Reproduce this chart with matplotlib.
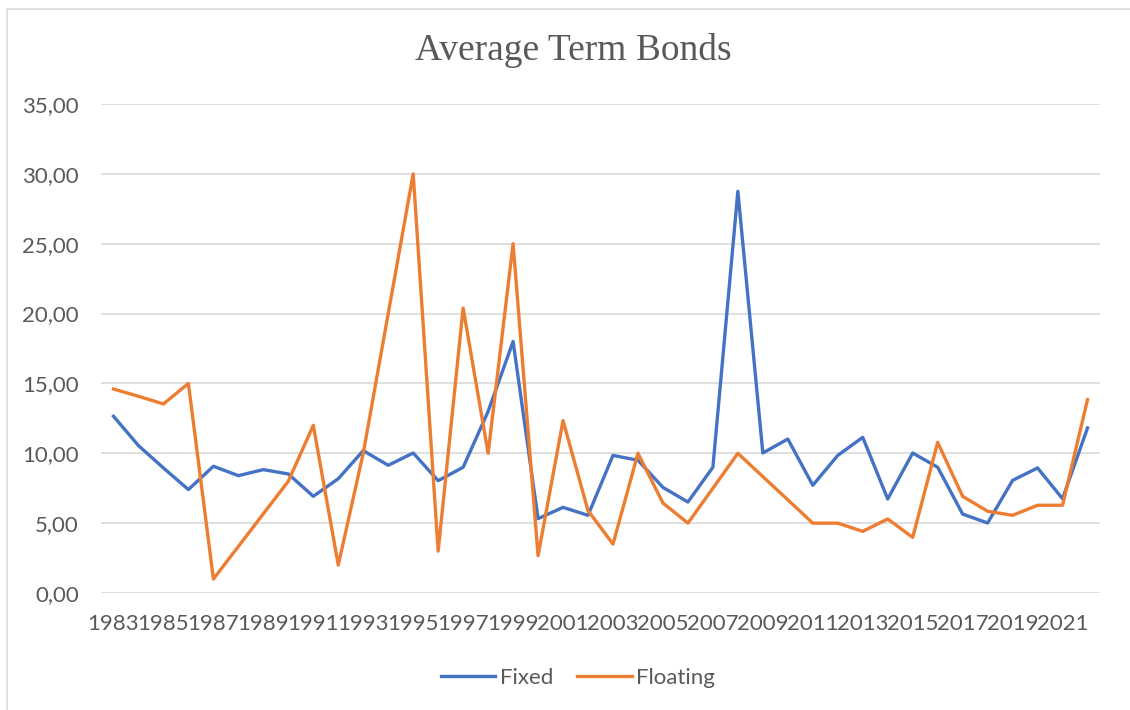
import matplotlib
matplotlib.use("Agg")
import matplotlib.pyplot as plt
from matplotlib.patches import Rectangle
from matplotlib.ticker import FuncFormatter, MultipleLocator

# Average term of bond issues, by year
years = list(range(1983, 2023))
fixed = [12.65, 10.55, 8.95, 7.40, 9.07, 8.40, 8.83, 8.52, 6.92, 8.18,
         10.19, 9.14, 10.02, 8.04, 9.00, 13.00, 18.00, 5.32, 6.13, 5.56,
         9.85, 9.50, 7.56, 6.51, 9.00, 28.75, 10.02, 11.02, 7.71, 9.85,
         11.14, 6.73, 10.02, 9.00, 5.65, 5.01, 8.06, 8.95, 6.75, 11.81]
floating = [14.60, 14.08, 13.53, 15.00, 1.00, 3.33, 5.67, 8.00, 12.00, 2.00,
            10.00, 20.00, 30.00, 3.00, 20.40, 10.00, 25.00, 2.67, 12.34, 5.90,
            3.50, 10.00, 6.44, 5.00, 7.50, 10.00, 8.33, 6.67, 5.00, 5.00,
            4.41, 5.30, 3.98, 10.78, 6.92, 5.85, 5.56, 6.28, 6.28, 13.84]

title = "Average Term Bonds"
series_names = ["Fixed", "Floating"]
colors = ["#4472C4", "#ED7D31"]

W, H = 1130, 710
fig = plt.figure(figsize=(W / 100, H / 100), dpi=100)
fig.patch.set_facecolor("white")

# chart frame
fig.patches.append(Rectangle((7 / W, -0.1), 1.2, 1 - 9 / H + 0.1,
                             transform=fig.transFigure, fill=False,
                             edgecolor="#D9D9D9", linewidth=1.2))

left, right, top, bottom = 101, 1100, 104, 593
ax = fig.add_axes([left / W, 1 - bottom / H, (right - left) / W, (bottom - top) / H])

x = list(range(len(years)))
ax.plot(x, fixed, color=colors[0], lw=2.4, label=series_names[0],
        solid_joinstyle="round", zorder=3)
ax.plot(x, floating, color=colors[1], lw=2.4, label=series_names[1],
        solid_joinstyle="round", zorder=3)

ax.set_xlim(-0.5, len(years) - 0.5)
ax.set_ylim(0, 35)
ax.yaxis.set_major_locator(MultipleLocator(5))
ax.yaxis.set_major_formatter(FuncFormatter(lambda v, p: f"{v:.2f}".replace(".", ",")))
ax.set_xticks(x[::2])
ax.set_xticklabels([str(y) for y in years[::2]])

ax.grid(axis="y", color="#D9D9D9", lw=1.2, zorder=0)
ax.set_axisbelow(True)
for s in ax.spines.values():
    s.set_visible(False)

font = "Lato"
fs = 16
ax.tick_params(axis="both", length=0, labelsize=fs, labelcolor="#595959")
ax.tick_params(axis="y", pad=16)
ax.tick_params(axis="x", pad=15)
for lab in ax.get_xticklabels() + ax.get_yticklabels():
    lab.set_fontfamily(font)

fig.text(573 / W, 1 - 51 / H, title, ha="center", va="center",
         fontsize=27, color="#595959", family="Liberation Serif")

leg = fig.legend(loc="center", bbox_to_anchor=(578 / W, 1 - 678 / H), ncol=2,
                 frameon=False, handlelength=2.45, handletextpad=0.2,
                 columnspacing=1.1, prop={"family": font, "size": fs})
for t in leg.get_texts():
    t.set_color("#595959")

fig.savefig("out.png", dpi=100, facecolor="white")
